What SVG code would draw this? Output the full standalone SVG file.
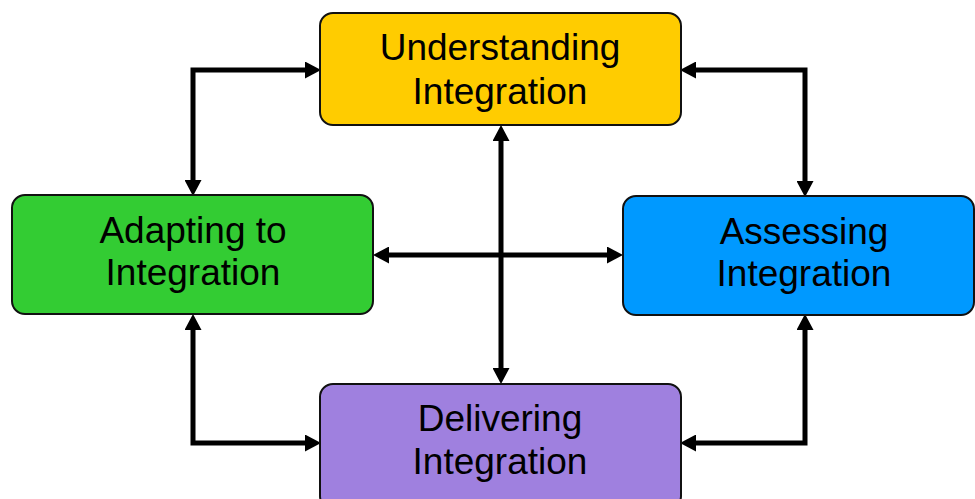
<svg xmlns="http://www.w3.org/2000/svg" width="975" height="499" viewBox="0 0 975 499">
<style>
.box{stroke:#111;stroke-width:2}
.lbl{font-family:"Liberation Sans",Arial,sans-serif;font-size:37px;fill:#000;text-anchor:middle}
.con{fill:none;stroke:#000;stroke-width:5;stroke-linejoin:miter;marker-start:url(#ah);marker-end:url(#ah)}
</style>
<defs>
<marker id="ah" markerUnits="userSpaceOnUse" markerWidth="16" markerHeight="17" refX="0" refY="8.5" orient="auto-start-reverse">
<path d="M0,0 L16,8.5 L0,17 z" fill="#000"/>
</marker>
</defs>
<rect width="975" height="499" fill="#fff"/>
<g id="connectors">
<path class="con" d="M193,180 L193,70 L305,70"/>
<path class="con" d="M696,70 L805,70 L805,181"/>
<path class="con" d="M193,330 L193,443 L305,443"/>
<path class="con" d="M805,330 L805,443 L696,443"/>
<path class="con" d="M501,141 L501,368"/>
<path class="con" d="M389,255 L607,255"/>
</g>
<g id="understanding">
<rect class="box" x="320" y="13" width="361" height="112" rx="13" fill="#FFCC00"/>
<text class="lbl" x="500" y="60">Understanding</text>
<text class="lbl" x="500" y="104">Integration</text>
</g>
<g id="adapting">
<rect class="box" x="12" y="195" width="361" height="119" rx="13" fill="#33CC33"/>
<text class="lbl" x="193" y="243">Adapting to</text>
<text class="lbl" x="193" y="285">Integration</text>
</g>
<g id="assessing">
<rect class="box" x="623" y="196" width="351" height="119" rx="13" fill="#0099FF"/>
<text class="lbl" x="804" y="244">Assessing</text>
<text class="lbl" x="804" y="286">Integration</text>
</g>
<g id="delivering">
<rect class="box" x="320" y="384" width="361" height="125" rx="13" fill="#9F80DF"/>
<text class="lbl" x="500" y="431">Delivering</text>
<text class="lbl" x="500" y="474">Integration</text>
</g>
</svg>
